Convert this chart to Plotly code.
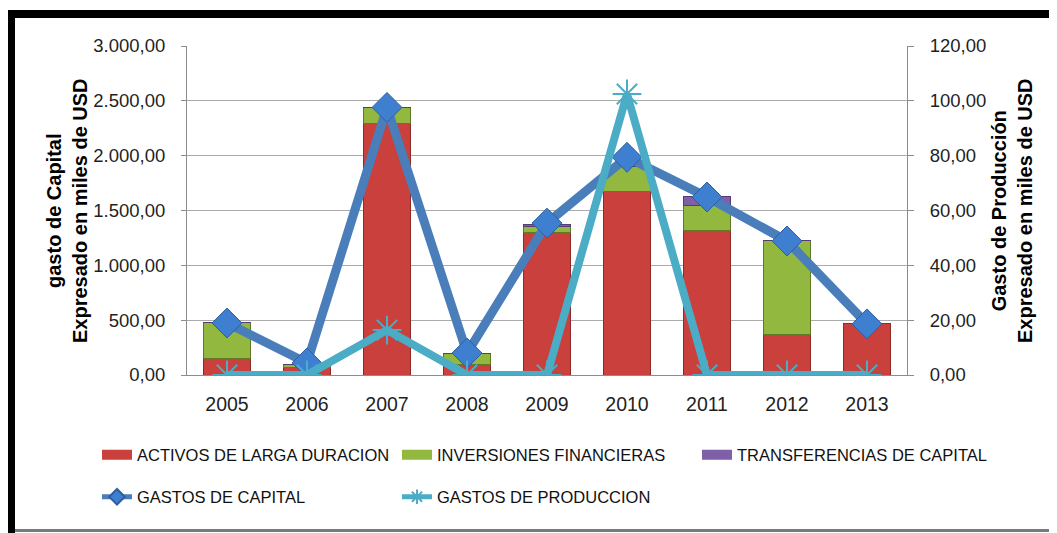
import plotly.graph_objects as go

years = ["2005", "2006", "2007", "2008", "2009", "2010", "2011", "2012", "2013"]
activos = [155, 70, 2290, 95, 1295, 1670, 1315, 365, 474]
inversiones = [320, 30, 145, 100, 63, 228, 228, 857, 0]
transferencias = [0, 0, 0, 0, 18, 0, 82, 0, 0]
gastos_capital = [474, 110, 2440, 200, 1385, 1985, 1623, 1222, 466]
gastos_produccion = [0, 0, 16.4, 0, 0, 102.5, 0, 0, 0]

left_ticks = [0, 500, 1000, 1500, 2000, 2500, 3000]
right_ticks = [0, 20, 40, 60, 80, 100, 120]

RED = "#C9403C"
RED_LINE = "#8E2B29"
GREEN = "#93B83F"
GREEN_LINE = "#5F7A25"
PURPLE = "#7F5FA8"
PURPLE_LINE = "#553C77"
BLUE = "#4A7EBB"
CYAN = "#4BACC6"

TICK_FONT = dict(family="Liberation Sans, Arial, sans-serif", size=18.5, color="#1f1f1f")
XTICK_FONT = dict(family="Liberation Sans, Arial, sans-serif", size=19.5, color="#1f1f1f")
LEG_FONT = dict(family="Liberation Sans, Arial, sans-serif", size=16.5, color="#111111")
TITLE_FONT = dict(family="Liberation Sans, Arial, sans-serif", size=20, color="#000000")

fig = go.Figure()

for name, vals, col, lcol in [
    ("ACTIVOS DE LARGA DURACION", activos, RED, RED_LINE),
    ("INVERSIONES FINANCIERAS", inversiones, GREEN, GREEN_LINE),
    ("TRANSFERENCIAS DE CAPITAL", transferencias, PURPLE, PURPLE_LINE),
]:
    fig.add_trace(go.Bar(
        x=years, y=vals, name=name, showlegend=False,
        marker=dict(color=col, line=dict(color=lcol, width=1)),
        yaxis="y", hoverinfo="x+y+name",
    ))
    # legend swatch (wide rectangle like the reference)
    fig.add_trace(go.Scatter(
        x=[None], y=[None], mode="lines", name=name, legend="legend",
        line=dict(color=col, width=10), yaxis="y",
    ))

fig.add_trace(go.Scatter(
    x=years, y=gastos_capital, name="GASTOS DE CAPITAL", mode="lines+markers",
    line=dict(color=BLUE, width=9),
    marker=dict(symbol="diamond", size=23, color="#3F7FD0", line=dict(color="#2E5F9F", width=1)),
    yaxis="y", legend="legend2",
))
fig.add_trace(go.Scatter(
    x=years, y=gastos_produccion, name="GASTOS DE PRODUCCION", mode="lines+markers",
    line=dict(color=CYAN, width=8),
    marker=dict(symbol="asterisk-open", size=24, color=CYAN, line=dict(color=CYAN, width=2)),
    yaxis="y2", legend="legend2",
))

# page offset of the plot div (body margin) is 8px
OFF = 8
FW, FH = 1057 - OFF, 533 - OFF
L, R, T, B = 187, 907, 46, 375  # plot area in page pixels
W, H = R - L, B - T

def px_x(p):
    return (p - L) / W

def px_y(p):
    return (B - p) / H

shapes = [
    dict(type="rect", xref="paper", yref="paper", x0=px_x(0), x1=px_x(1070), y0=px_y(18), y1=px_y(10),
         fillcolor="black", line=dict(width=0), layer="above"),
    dict(type="rect", xref="paper", yref="paper", x0=px_x(0), x1=px_x(15), y0=px_y(540), y1=px_y(10),
         fillcolor="black", line=dict(width=0), layer="above"),
    dict(type="rect", xref="paper", yref="paper", x0=px_x(15), x1=px_x(1070), y0=px_y(532), y1=px_y(529),
         fillcolor="#7a7a7a", line=dict(width=0), layer="above"),
]

annotations = [
    dict(text="<b>gasto de Capital<br>Expresado en miles de USD</b>", textangle=-90,
         xref="paper", yref="paper", x=px_x(67), y=px_y(211), showarrow=False,
         xanchor="center", yanchor="middle", font=TITLE_FONT, align="center"),
    dict(text="<b>Gasto de Producción<br>Expresado en miles de USD</b>", textangle=-90,
         xref="paper", yref="paper", x=px_x(1012), y=px_y(211), showarrow=False,
         xanchor="center", yanchor="middle", font=TITLE_FONT, align="center"),
]

fig.update_layout(
    width=FW, height=FH,
    margin=dict(l=L - OFF, r=FW - (R - OFF), t=T - OFF, b=FH - (B - OFF), autoexpand=False),
    paper_bgcolor="white", plot_bgcolor="white",
    barmode="stack", bargap=0.41,
    separators=",.",
    shapes=shapes, annotations=annotations,
    xaxis=dict(
        type="category", categoryorder="array", categoryarray=years,
        range=[-0.5, len(years) - 0.5], autorange=False,
        showline=True, linecolor="#8c8c8c", linewidth=1,
        ticks="", tickfont=XTICK_FONT, ticklabelstandoff=12, showgrid=False,
    ),
    yaxis=dict(
        range=[0, 3000], tickvals=left_ticks, tickformat=",.2f",
        showgrid=True, gridcolor="#ababab", gridwidth=1,
        showline=True, linecolor="#8c8c8c", linewidth=1,
        ticks="outside", ticklen=5, tickcolor="#8c8c8c",
        tickfont=TICK_FONT, ticklabelstandoff=12, zeroline=False,
    ),
    yaxis2=dict(
        range=[0, 120], tickvals=right_ticks, tickformat=".2f",
        overlaying="y", side="right", showgrid=False,
        showline=True, linecolor="#8c8c8c", linewidth=1,
        ticks="outside", ticklen=6, tickcolor="#8c8c8c",
        tickfont=TICK_FONT, ticklabelstandoff=12, zeroline=False,
    ),
    legend=dict(
        orientation="h", x=px_x(97), xanchor="left", y=px_y(455), yanchor="middle",
        font=LEG_FONT, entrywidth=255, entrywidthmode="pixels", traceorder="normal",
        bgcolor="rgba(0,0,0,0)", borderwidth=0,
    ),
    legend2=dict(
        orientation="h", x=px_x(97), xanchor="left", y=px_y(497), yanchor="middle",
        font=LEG_FONT, entrywidth=255, entrywidthmode="pixels", traceorder="normal",
        bgcolor="rgba(0,0,0,0)", borderwidth=0, itemsizing="constant",
    ),
)

fig.write_html("out.html")
